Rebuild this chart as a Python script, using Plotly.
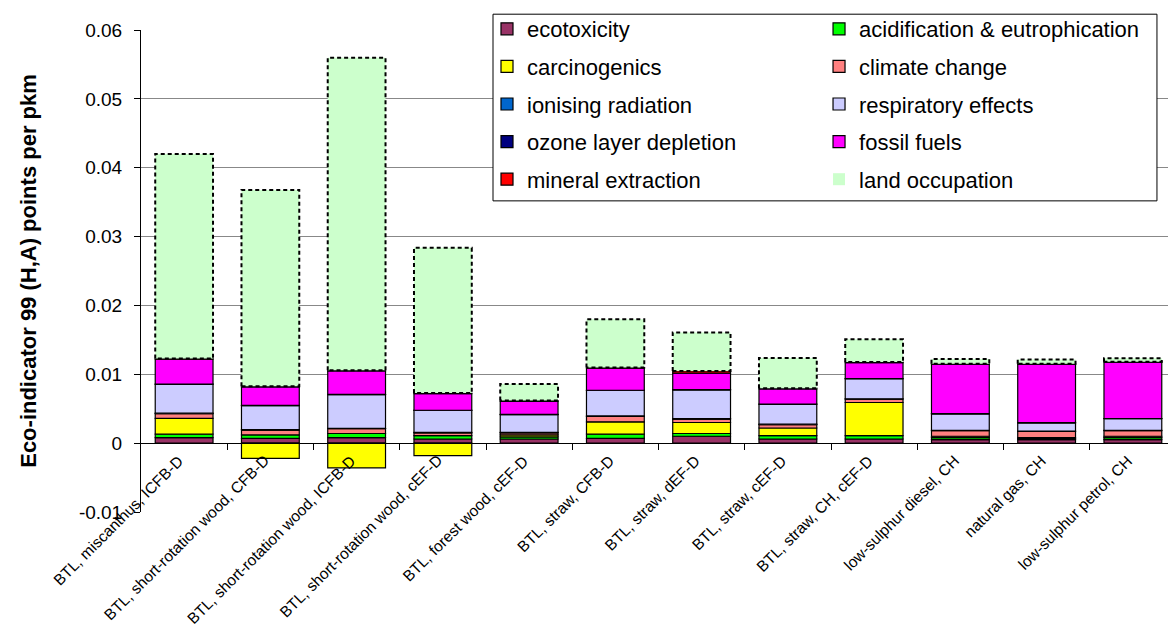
import plotly.graph_objects as go

categories = [
    "BTL, miscanthus, ICFB-D",
    "BTL, short-rotation wood, CFB-D",
    "BTL, short-rotation wood, ICFB-D",
    "BTL, short-rotation wood, cEF-D",
    "BTL, forest wood, cEF-D",
    "BTL, straw, CFB-D",
    "BTL, straw, dEF-D",
    "BTL, straw, cEF-D",
    "BTL, straw, CH, cEF-D",
    "low-sulphur diesel, CH",
    "natural gas, CH",
    "low-sulphur petrol, CH",
]

ecotoxicity = [0.0008, 0.0007, 0.0008, 0.0006, 0.0006, 0.0007, 0.0010, 0.0006, 0.0006, 0.0005, 0.0005, 0.0005]
acidification = [0.0005, 0.0005, 0.0006, 0.0005, 0.0003, 0.0006, 0.0004, 0.0005, 0.0005, 0.0003, 0.0002, 0.0003]
carcinogenics = [0.0023, -0.0022, -0.0036, -0.0018, 0.0003, 0.0018, 0.0016, 0.0011, 0.0048, 0.0002, 0.0001, 0.0002]
climate_change = [0.0007, 0.0007, 0.0007, 0.0004, 0.0003, 0.0008, 0.0005, 0.0005, 0.0005, 0.0008, 0.0009, 0.0008]
ionising_radiation = [0.00005, 0.00005, 0.00005, 0.00005, 0.00005, 0.00005, 0.00005, 0.00005, 0.00005, 0.00005, 0.00005, 0.00005]
respiratory = [0.0042, 0.0035, 0.0049, 0.0032, 0.0026, 0.0037, 0.0042, 0.0029, 0.0029, 0.0024, 0.0012, 0.0017]
ozone = [0.00003, 0.00003, 0.00003, 0.00003, 0.00003, 0.00003, 0.00003, 0.00003, 0.00003, 0.00003, 0.00003, 0.00003]
fossil_fuels = [0.0036, 0.0027, 0.0034, 0.0024, 0.0019, 0.0032, 0.0024, 0.0022, 0.0023, 0.0072, 0.0085, 0.0082]
mineral = [0.0001, 0.0001, 0.0001, 0.0001, 0.0001, 0.0001, 0.0003, 0.0001, 0.0001, 0.00005, 0.00005, 0.00005]
land_occupation = [0.0297, 0.0285, 0.0454, 0.0211, 0.0024, 0.0070, 0.0056, 0.0044, 0.0033, 0.0007, 0.0006, 0.0005]

y_tickvals = [-0.01, 0, 0.01, 0.02, 0.03, 0.04, 0.05, 0.06]
y_ticktext = ["-0.01", "0", "0.01", "0.02", "0.03", "0.04", "0.05", "0.06"]

series = [
    ("ecotoxicity", ecotoxicity, "#993366", "legend"),
    ("acidification & eutrophication", acidification, "#00FF00", "legend2"),
    ("carcinogenics", carcinogenics, "#FFFF00", "legend"),
    ("climate change", climate_change, "#FF8080", "legend2"),
    ("ionising radiation", ionising_radiation, "#0066CC", "legend"),
    ("respiratory effects", respiratory, "#CCCCFF", "legend2"),
    ("ozone layer depletion", ozone, "#000080", "legend"),
    ("fossil fuels", fossil_fuels, "#FF00FF", "legend2"),
    ("mineral extraction", mineral, "#FF0000", "legend"),
]

FONT = "Liberation Sans, Arial, sans-serif"
xs = list(range(len(categories)))
BAR_W = 0.67

fig = go.Figure()
for name, vals, color, leg in series:
    fig.add_trace(go.Bar(
        x=xs, y=vals, name=name, width=BAR_W,
        marker=dict(color=color, line=dict(color="black", width=1.2)),
        legend=leg, legendgroup=name,
    ))

fig.add_trace(go.Bar(
    x=xs, y=land_occupation, name="land occupation", width=BAR_W,
    marker=dict(color="#CCFFCC", line=dict(color="#CCFFCC", width=0)),
    legend="legend2", legendgroup="land occupation",
))

# dashed outline around land occupation segments (derived from data)
ox, oy = [], []
for i in xs:
    base = sum(max(s[1][i], 0) for s in series)
    top = base + land_occupation[i]
    x0, x1 = i - BAR_W / 2, i + BAR_W / 2
    ox += [x0, x0, x1, x1, x0, None]
    oy += [base, top, top, base, base, None]
fig.add_trace(go.Scatter(x=ox, y=oy, mode="lines", showlegend=False, hoverinfo="skip",
                         line=dict(color="black", width=2, dash="4px,3px")))

# invisible trace to activate the zero-crossing category axis
fig.add_trace(go.Scatter(x=[None], y=[None], xaxis="x2", showlegend=False))

for i, cat in enumerate(categories):
    fig.add_annotation(x=i, y=0, xref="x", yref="y", text=cat, showarrow=False,
                       textangle=-45, xanchor="right", yanchor="top",
                       xshift=5, yshift=-6,
                       font=dict(family=FONT, size=15.5, color="black"))

fig.add_shape(type="rect", xref="paper", yref="paper",
              x0=0.3401, x1=0.9816, y0=0.6455, y1=1.0328,
              line=dict(color="black", width=1), fillcolor="white", layer="above")

ymin, ymax = -0.01, 0.06
fig.update_layout(
    width=1168, height=624,
    margin=dict(l=133, r=0, t=15, b=120),
    paper_bgcolor="white", plot_bgcolor="white",
    barmode="relative", bargap=0.33,
    font=dict(family=FONT, size=19, color="black"),
    showlegend=True,
    xaxis=dict(range=[-0.5, 11.5], showticklabels=False, showgrid=False,
               zeroline=False, showline=False, ticks=""),
    xaxis2=dict(range=[-0.5, 11.5], overlaying="x", anchor="free",
                position=(0 - ymin) / (ymax - ymin), showline=True, linecolor="black",
                linewidth=1, ticks="outside", ticklen=6, tickcolor="black",
                tickvals=[i + 0.5 for i in xs[:-1]], showticklabels=False,
                showgrid=False, zeroline=False),
    yaxis=dict(range=[ymin, ymax], tickvals=y_tickvals, ticktext=y_ticktext,
               showgrid=True, gridcolor="#888888", gridwidth=1,
               zeroline=False, showline=True, linecolor="black", linewidth=1,
               ticks="outside", ticklen=6, tickcolor="black", ticklabelstandoff=8,
               tickfont=dict(family=FONT, size=19),
               title=dict(text="Eco-indicator 99 (H,A) points per pkm", standoff=36,
                          font=dict(family=FONT, size=22, weight="bold"))),
    legend=dict(x=0.3343, y=1.046, xanchor="left", yanchor="top",
                bgcolor="rgba(0,0,0,0)", traceorder="grouped", tracegroupgap=6,
                font=dict(family=FONT, size=22)),
    legend2=dict(x=0.6551, y=1.046, xanchor="left", yanchor="top",
                 bgcolor="rgba(0,0,0,0)", traceorder="grouped", tracegroupgap=6,
                 font=dict(family=FONT, size=22)),
)

fig.write_html("out.html")
